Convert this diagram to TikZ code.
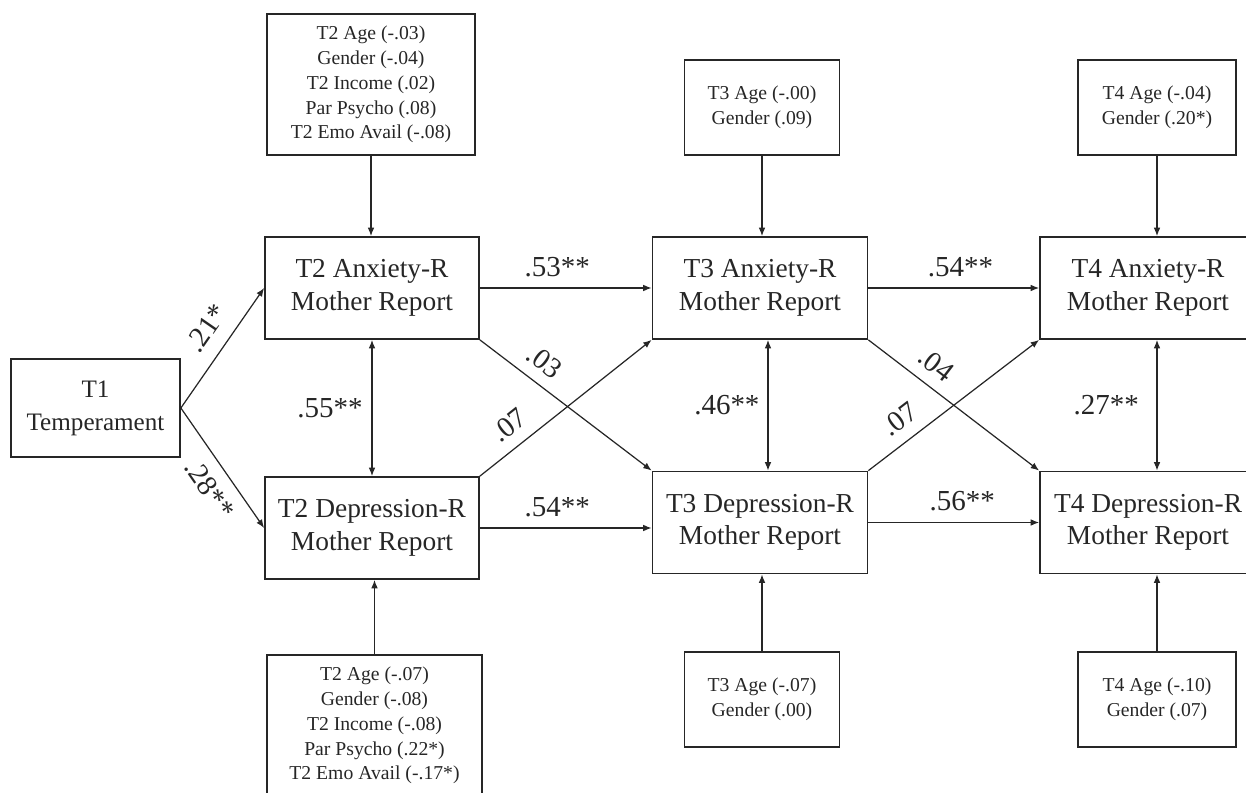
\documentclass[tikz,border=0pt]{standalone}
\usepackage{fontspec}
\setmainfont{Liberation Serif}
\usetikzlibrary{arrows.meta}
\definecolor{InkGray}{RGB}{38,38,38}
\tikzset{
  measure/.style={draw=InkGray,line width=1pt,minimum height=2.04cm,align=center,
    text=InkGray,font=\fontsize{15.6}{18.4}\selectfont,inner sep=0pt},
  covar/.style={draw=InkGray,line width=0.9pt,align=center,text=InkGray,
    font=\fontsize{11.2}{14.1}\selectfont,inner sep=0pt},
  arrow/.style={-{Latex[length=4.8pt,width=3.8pt]},line width=0.7pt,InkGray},
  twoway/.style={{Latex[length=4.8pt,width=3.8pt]}-{Latex[length=4.8pt,width=3.8pt]},
    line width=0.7pt,InkGray},
  coef/.style={text=InkGray,font=\fontsize{16.5}{19}\selectfont,inner sep=2pt}
}

\begin{document}
\begin{tikzpicture}[x=0.02cm,y=-0.02cm]
  \clip (0,0) rectangle (1246,793);

  \node[measure,minimum width=3.38cm,minimum height=1.96cm,
        font=\fontsize{14.3}{18.7}\selectfont] (t1) at (95.5,408) {T1\\Temperament};

  \node[measure,minimum width=4.28cm] (anx2) at (372,288) {T2 Anxiety-R\\Mother Report};
  \node[measure,minimum width=4.28cm] (dep2) at (372,528) {T2 Depression-R\\Mother Report};
  \node[measure,minimum width=4.3cm] (anx3) at (760,288) {T3 Anxiety-R\\Mother Report};
  \node[measure,minimum width=4.3cm] (dep3) at (760,522.5) {T3 Depression-R\\Mother Report};
  \node[measure,minimum width=4.32cm] (anx4) at (1148,288) {T4 Anxiety-R\\Mother Report};
  \node[measure,minimum width=4.32cm] (dep4) at (1148,522.5) {T4 Depression-R\\Mother Report};

  \node[covar,minimum width=4.16cm,minimum height=2.82cm] (cov2a) at (371,84.5)
    {T2 Age (-.03)\\Gender (-.04)\\T2 Income (.02)\\Par Psycho (.08)\\T2 Emo Avail (-.08)};
  \node[covar,minimum width=4.3cm,minimum height=2.82cm] (cov2d) at (374.5,725.5)
    {T2 Age (-.07)\\Gender (-.08)\\T2 Income (-.08)\\Par Psycho (.22*)\\T2 Emo Avail (-.17*)};
  \node[covar,minimum width=3.1cm,minimum height=1.9cm] (cov3a) at (762,107.5)
    {T3 Age (-.00)\\Gender (.09)};
  \node[covar,minimum width=3.16cm,minimum height=1.9cm] (cov4a) at (1157,107.5)
    {T4 Age (-.04)\\Gender (.20*)};
  \node[covar,minimum width=3.1cm,minimum height=1.9cm] (cov3d) at (762,699.5)
    {T3 Age (-.07)\\Gender (.00)};
  \node[covar,minimum width=3.16cm,minimum height=1.9cm] (cov4d) at (1157,699.5)
    {T4 Age (-.10)\\Gender (.07)};

  \draw[arrow] (t1.east) -- node[coef,sloped,above=6pt,pos=0.55] {.21*} (anx2.west);
  \draw[arrow] (t1.east) -- node[coef,sloped,below=5pt,pos=0.57] {.28**} (dep2.west);

  \draw[arrow] (cov2a.south) -- (cov2a.south |- anx2.north);
  \draw[arrow] (cov2d.north) -- (cov2d.north |- dep2.south);
  \draw[arrow] (cov3a.south) -- (cov3a.south |- anx3.north);
  \draw[arrow] (cov3d.north) -- (cov3d.north |- dep3.south);
  \draw[arrow] (cov4a.south) -- (cov4a.south |- anx4.north);
  \draw[arrow] (cov4d.north) -- (cov4d.north |- dep4.south);

  \draw[arrow] (anx2.east) -- node[coef,above=4pt,pos=0.45] {.53**} (anx3.west);
  \draw[arrow] (dep2.east) -- node[coef,above=4pt,pos=0.45] {.54**} (dep2.east -| dep3.west);
  \draw[arrow] (anx3.east) -- node[coef,above=4pt,pos=0.54] {.54**} (anx4.west);
  \draw[arrow] (dep3.east) -- node[coef,above=4pt,pos=0.55] {.56**} (dep4.west);

  \draw[arrow] (anx2.south east) -- node[coef,sloped,above=4.5pt,pos=0.3] {.03} (dep3.north west);
  \draw[arrow] (dep2.north east) -- node[coef,sloped,above=4.5pt,pos=0.25] {.07} (anx3.south west);
  \draw[arrow] (anx3.south east) -- node[coef,sloped,above=4.5pt,pos=0.32] {.04} (dep4.north west);
  \draw[arrow] (dep3.north east) -- node[coef,sloped,above=4.5pt,pos=0.26] {.07} (anx4.south west);

  \draw[twoway] (anx2.south) -- node[coef,left=3pt] {.55**} (dep2.north);
  \draw[twoway] ([xshift=0.16cm]anx3.south) -- node[coef,left=2.5pt] {.46**} ([xshift=0.16cm]dep3.north);
  \draw[twoway] (anx4.south -| cov4a.south) -- node[coef,left=8pt] {.27**} (dep4.north -| cov4a.south);
\end{tikzpicture}
\end{document}
